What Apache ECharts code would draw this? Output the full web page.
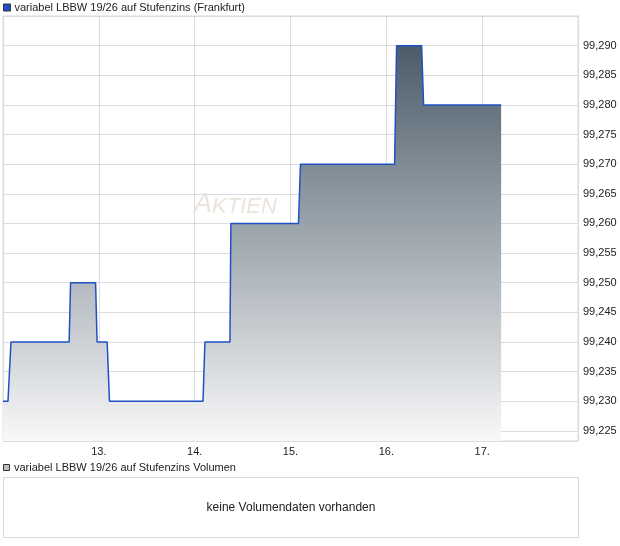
<!DOCTYPE html>
<html><head><meta charset="utf-8">
<script src="https://cdn.jsdelivr.net/npm/echarts@6/dist/echarts.min.js"></script>
<style>html,body{margin:0;padding:0;background:#fff}#c{width:620px;height:546px}</style>
</head><body><div id="c"></div>
<script>
// time in days (day of month, fractional)
const days = [12.0, 12.052, 12.083, 12.69, 12.705, 12.966, 12.982, 13.087, 13.111, 14.087, 14.107, 14.368, 14.378, 15.083, 15.104, 16.086, 16.107, 16.368, 16.389, 17.198];
const prices = [99.230, 99.230, 99.240, 99.240, 99.250, 99.250, 99.240, 99.240, 99.230, 99.230, 99.240, 99.240, 99.260, 99.260, 99.270, 99.270, 99.290, 99.290, 99.280, 99.280];
const seriesName = 'variabel LBBW 19/26 auf Stufenzins (Frankfurt)';
const volumeName = 'variabel LBBW 19/26 auf Stufenzins Volumen';
const noVolumeText = 'keine Volumendaten vorhanden';
const yMin = 99.2233, yMax = 99.295;
const xMin = 12, xMax = 18;

const FONT = '"Liberation Sans", Arial, sans-serif';
const chart = echarts.init(document.getElementById('c'), null, {renderer: 'canvas'});
chart.setOption({
  animation: false,
  textStyle: {fontFamily: FONT},
  legend: {
    left: -2, top: -3, icon: 'rect', itemWidth: 7, itemHeight: 7, itemGap: 4,
    textStyle: {fontSize: 11, color: '#222', fontFamily: FONT, padding: [0,0,0,-1]},
    itemStyle: {borderColor: '#333', borderWidth: 1},
    data: [seriesName]
  },
  grid: {left: 3, right: 42, top: 16, bottom: 105, show: true, borderColor: '#d9d9d9', borderWidth: 1},
  xAxis: {
    type: 'value', min: xMin, max: xMax, interval: 1,
    axisLine: {show: false}, axisTick: {show: false},
    splitLine: {show: true, lineStyle: {color: '#dcdcdc', width: 1}},
    axisLabel: {showMinLabel: false, showMaxLabel: false, fontSize: 11, color: '#222', margin: 5, fontFamily: FONT,
      formatter: v => v + '.'}
  },
  yAxis: {
    type: 'value', position: 'right', min: yMin, max: yMax, splitNumber: 14,
    axisLine: {show: true, lineStyle: {color: '#d9d9d9'}}, axisTick: {show: false},
    splitLine: {show: true, lineStyle: {color: '#dcdcdc', width: 1}},
    axisLabel: {showMinLabel: false, showMaxLabel: false, fontSize: 11, color: '#222', margin: 5, fontFamily: FONT,
      formatter: v => v.toFixed(3).replace('.', ',')}
  },
  graphic: [
    {type: 'text', left: 194, top: 191, z: 0, silent: true,
      style: {text: '{a|A}{b|KTIEN}', rich: {
        a: {fontSize: 27, fontStyle: 'italic', fontFamily: FONT, fill: '#ebe4dd'},
        b: {fontSize: 22, fontStyle: 'italic', fontFamily: FONT, fill: '#ebe4dd', padding: [4,0,0,0]}
      }}},
    {type: 'rect', shape: {x: 3.5, y: 464.5, width: 6, height: 6}, style: {fill: '#c0c0c0', stroke: '#333', lineWidth: 1}},
    {type: 'text', left: 14, top: 462, style: {text: volumeName, fontSize: 11, fill: '#222', fontFamily: FONT}},
    {type: 'rect', shape: {x: 3.5, y: 477.5, width: 575, height: 60}, style: {fill: '#fff', stroke: '#d9d9d9', lineWidth: 1}},
    {type: 'text', x: 291, y: 508, style: {text: noVolumeText, fontSize: 12, fill: '#222', fontFamily: FONT, align: 'center', verticalAlign: 'middle'}}
  ],
  series: [{
    name: seriesName, type: 'line', showSymbol: false, symbol: 'none',
    data: days.map((d, i) => [d, prices[i]]),
    lineStyle: {color: '#1f50c4', width: 1.5},
    itemStyle: {color: '#1f50c4'},
    areaStyle: {origin: 'start', opacity: 1, color: new echarts.graphic.LinearGradient(0, 0, 0, 1, [
      {offset: 0, color: '#4b5c69'}, {offset: 1, color: '#f8f8f9'}
    ])}
  }]
});
</script></body></html>
